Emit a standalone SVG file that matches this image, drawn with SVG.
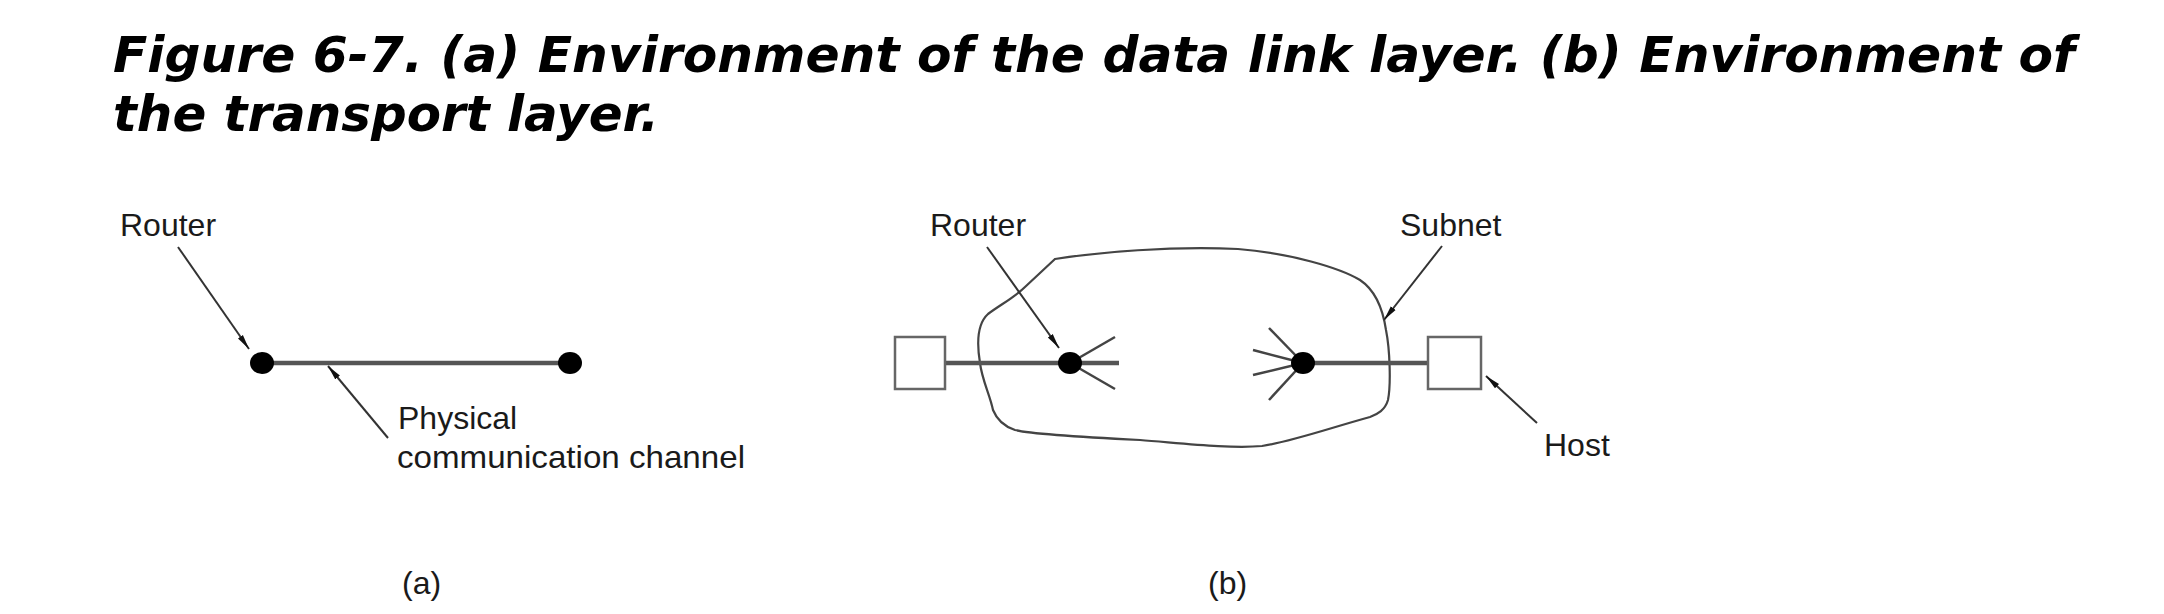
<svg xmlns="http://www.w3.org/2000/svg" width="2164" height="614" viewBox="0 0 2164 614">
<style>
.title{font-family:"DejaVu Sans",Verdana,sans-serif;font-weight:bold;font-style:italic;font-size:49px;fill:#000}
.lbl{font-family:"Liberation Sans",Arial,sans-serif;font-size:32px;fill:#1a1a1a}
.link{stroke:#555;stroke-width:4.5;fill:none}
.spoke{stroke:#444;stroke-width:2.5;fill:none}
.lead{stroke:#333;stroke-width:2;fill:none;marker-end:url(#ah)}
.host{fill:#fff;stroke:#666;stroke-width:2.5}
.dot{fill:#000}
.cloud{fill:none;stroke:#444;stroke-width:2.2}
</style>
<defs>
<marker id="ah" markerUnits="userSpaceOnUse" markerWidth="16" markerHeight="8" refX="15" refY="4" orient="auto">
<path d="M0,1 L15,4 L0,7 Z" fill="#111"/>
</marker>
</defs>
<rect width="2164" height="614" fill="#fff"/>
<g id="caption">
<text class="title" x="113" y="72" textLength="1962" lengthAdjust="spacingAndGlyphs">Figure 6-7. (a) Environment of the data link layer. (b) Environment of</text>
<text class="title" x="113" y="131" textLength="546" lengthAdjust="spacingAndGlyphs">the transport layer.</text>
</g>
<g id="subnet-cloud">
<path class="cloud" d="M1055,259 C1100,252 1170,246 1238,249 C1290,253 1340,268 1360,280 C1375,290 1383,310 1386,330 C1390,350 1391,385 1388,400 C1385,410 1378,414 1370,417 C1330,428 1290,442 1262,446 C1230,449 1180,443 1140,440 C1080,437 1030,434 1015,430 C1000,425 995,415 993,410 C990,395 982,380 980,363 C977,345 976,325 988,314 C1000,305 1015,297 1025,287 Z"/>
</g>
<g id="connectors">
<line class="link" x1="262" y1="363" x2="570" y2="363"/>
<line class="link" x1="945" y1="363" x2="1119" y2="363"/>
<line class="link" x1="1303" y1="363" x2="1428" y2="363"/>
<line class="spoke" x1="1070" y1="363" x2="1115" y2="337"/>
<line class="spoke" x1="1070" y1="363" x2="1115" y2="389"/>
<line class="spoke" x1="1303" y1="363" x2="1269" y2="328"/>
<line class="spoke" x1="1303" y1="363" x2="1253" y2="350"/>
<line class="spoke" x1="1303" y1="363" x2="1253" y2="375"/>
<line class="spoke" x1="1303" y1="363" x2="1269" y2="400"/>
<line class="lead" x1="178" y1="247" x2="249" y2="349"/>
<line class="lead" x1="388" y1="438" x2="328" y2="366"/>
<line class="lead" x1="987" y1="247" x2="1059" y2="348"/>
<line class="lead" x1="1442" y1="246" x2="1384" y2="320"/>
<line class="lead" x1="1537" y1="423" x2="1486" y2="376"/>
</g>
<g id="router-a-left"><ellipse class="dot" cx="262" cy="363" rx="12" ry="11"/></g>
<g id="router-a-right"><ellipse class="dot" cx="570" cy="363" rx="12" ry="11"/></g>
<g id="host-left"><rect class="host" x="895" y="337" width="50" height="52"/></g>
<g id="router-b-left"><ellipse class="dot" cx="1070" cy="363" rx="12" ry="11"/></g>
<g id="router-b-right"><ellipse class="dot" cx="1303" cy="363" rx="12" ry="11"/></g>
<g id="host-right"><rect class="host" x="1428" y="337" width="53" height="52"/></g>
<g id="labels">
<text class="lbl" x="120" y="236">Router</text>
<text class="lbl" x="398" y="429">Physical</text>
<text class="lbl" x="397" y="468" textLength="348" lengthAdjust="spacingAndGlyphs">communication channel</text>
<text class="lbl" x="930" y="236">Router</text>
<text class="lbl" x="1400" y="236">Subnet</text>
<text class="lbl" x="1544" y="456">Host</text>
<text class="lbl" x="402" y="594">(a)</text>
<text class="lbl" x="1208" y="594">(b)</text>
</g>
</svg>
